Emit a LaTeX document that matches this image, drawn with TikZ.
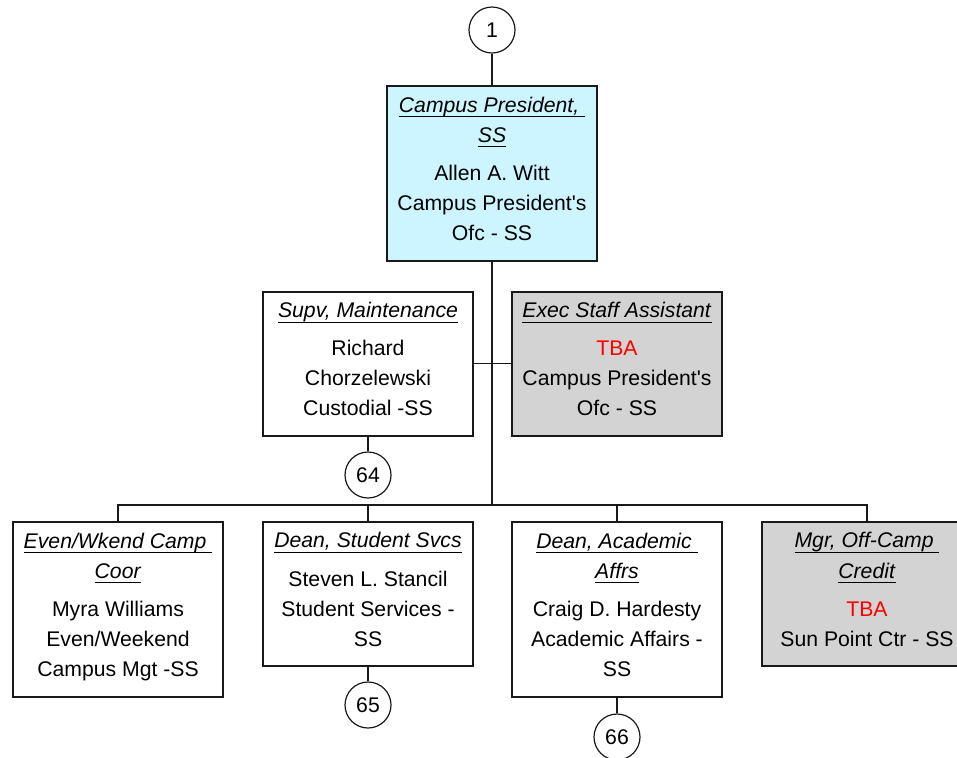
\documentclass[tikz,border=0pt]{standalone}
\usepackage{fontspec}
\setmainfont{Liberation Sans}
\definecolor{presfill}{RGB}{204,245,255}
\definecolor{vacfill}{RGB}{211,211,211}
% italic title with a fixed underline
\newcommand{\ttl}[1]{\setbox0\hbox{\textit{#1}}\rlap{\rule[-2.4pt]{\wd0}{0.6pt}}\box0}
\newcommand{\tba}{\textcolor{red}{TBA}}
\newcommand{\eol}{\rule[-4.5pt]{0pt}{4.5pt}}
\newcommand{\apos}{\textquotesingle}

\begin{document}
\begin{tikzpicture}[
        x=0.5pt, y=-0.5pt,
        unit/.style={rectangle, draw=black!90, line width=0.8pt, fill=white, minimum width=105pt, align=center, anchor=north, inner sep=2pt, font=\fontsize{10.6}{15}\selectfont},
        short/.style={unit, minimum height=72pt},
        tall/.style={unit, minimum height=87.5pt},
        conn/.style={circle, draw=black!90, line width=0.6pt, fill=white, minimum size=23pt, inner sep=0pt, font=\fontsize{10.6}{15}\selectfont},
        wire/.style={draw=black!90, line width=0.6pt}
    ]
        \useasboundingbox (0,0) rectangle (957,757);
        \clip (0,0) rectangle (957,757);
        \node[conn] (c1) at (492, 30) {1};
        \node[tall, fill=presfill] (pres) at (492, 85) {\ttl{Campus President,\ }\\ \ttl{SS}\\[4pt] Allen A. Witt\\ Campus President\apos s\\ Ofc - SS\eol};
        \node[short] (supv) at (368, 291) {\ttl{Supv, Maintenance}\\[4pt] Richard\\ Chorzelewski\\ Custodial -SS\eol};
        \node[short, fill=vacfill] (exec) at (617, 291) {\ttl{Exec Staff Assistant}\\[4pt] \tba\\ Campus President\apos s\\ Ofc - SS\eol};
        \node[conn] (c64) at (368, 475) {64};
        \node[tall] (ewc) at (118, 521) {\ttl{Even/Wkend Camp\ }\\ \ttl{Coor}\\[4pt] Myra Williams\\ Even/Weekend\\ Campus Mgt -SS\eol};
        \node[short] (dss) at (368, 521) {\ttl{Dean, Student Svcs}\\[4pt] Steven L. Stancil\\ Student Services -\\ SS\eol};
        \node[tall] (daa) at (617, 521) {\ttl{Dean, Academic\ }\\ \ttl{Affrs}\\[4pt] Craig D. Hardesty\\ Academic Affairs -\\ SS\eol};
        \node[short, fill=vacfill] (occ) at (867, 521) {\ttl{Mgr, Off-Camp\ }\\ \ttl{Credit}\\[4pt] \tba\\ Sun Point Ctr - SS\eol};
        \node[conn] (c65) at (368, 705) {65};
        \node[conn] (c66) at (617, 737) {66};
        \coordinate (bus) at (492, 505);
        \draw[wire] (c1) -- (pres);
        \draw[wire] (pres.south) -- (bus);
        \draw[wire] (supv.east) -- (exec.west);
        \draw[wire] (supv) -- (c64);
        \draw[wire] (ewc.north) |- (bus) -| (occ.north);
        \draw[wire] (dss.north) -- (dss.north |- bus);
        \draw[wire] (daa.north) -- (daa.north |- bus);
        \draw[wire] (dss) -- (c65);
        \draw[wire] (daa) -- (c66);
    \end{tikzpicture}
\end{document}
